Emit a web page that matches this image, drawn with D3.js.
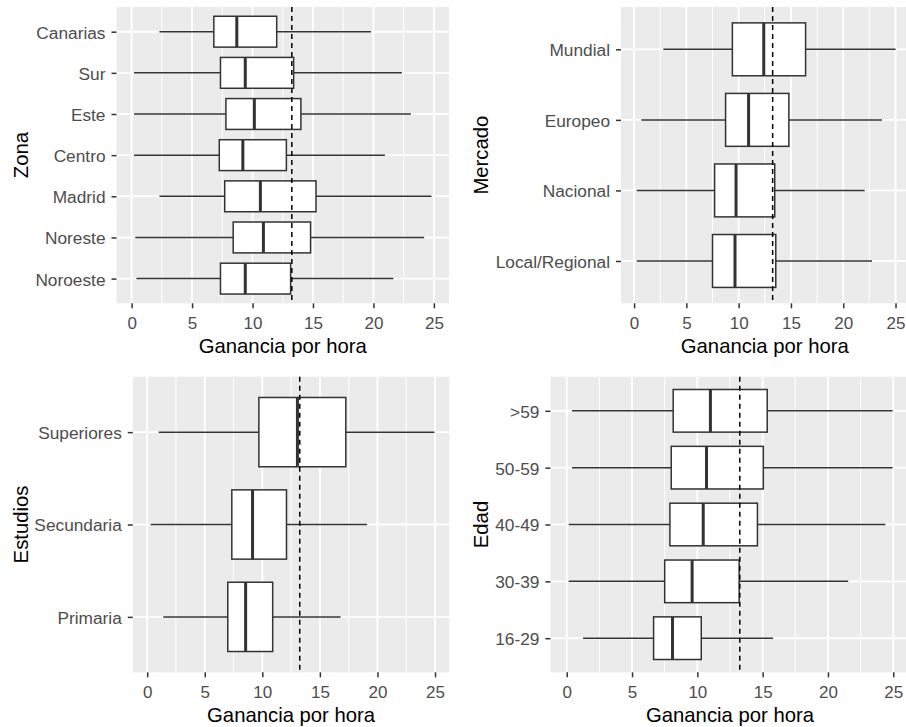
<!DOCTYPE html>
<html>
<head>
<meta charset="utf-8">
<script src="https://cdn.jsdelivr.net/npm/d3@7"></script>
<style>
  html, body { margin: 0; padding: 0; background: #fff; overflow: hidden; }
  svg { display: block; }
</style>
</head>
<body>
<svg id="chart" width="906" height="727"></svg>
<script>
// Hourly earnings ("Ganancia por hora") by group, four boxplot panels.
// Each group: whisker low, Q1, median, Q3, whisker high. Listed top to bottom.
const zonas     = ["Canarias", "Sur", "Este", "Centro", "Madrid", "Noreste", "Noroeste"];
const zonaLow   = [2.3, 0.2, 0.2, 0.2, 2.3, 0.3, 0.4];
const zonaQ1    = [6.8, 7.35, 7.8, 7.25, 7.7, 8.4, 7.35];
const zonaMed   = [8.7, 9.4, 10.15, 9.2, 10.65, 10.9, 9.4];
const zonaQ3    = [12.0, 13.4, 14.0, 12.8, 15.25, 14.8, 13.15];
const zonaHigh  = [19.8, 22.35, 23.1, 20.95, 24.8, 24.2, 21.65];

const mercados    = ["Mundial", "Europeo", "Nacional", "Local/Regional"];
const mercadoLow  = [2.8, 0.7, 0.25, 0.25];
const mercadoQ1   = [9.4, 8.75, 7.7, 7.5];
const mercadoMed  = [12.4, 10.95, 9.75, 9.65];
const mercadoQ3   = [16.4, 14.8, 13.45, 13.55];
const mercadoHigh = [25.0, 23.7, 22.05, 22.75];

const estudios    = ["Superiores", "Secundaria", "Primaria"];
const estudioLow  = [1.0, 0.3, 1.4];
const estudioQ1   = [9.7, 7.35, 7.0];
const estudioMed  = [13.05, 9.15, 8.55];
const estudioQ3   = [17.25, 12.1, 10.9];
const estudioHigh = [24.95, 19.1, 16.8];

const edades    = [">59", "50-59", "40-49", "30-39", "16-29"];
const edadLow   = [0.4, 0.4, 0.15, 0.15, 1.25];
const edadQ1    = [8.15, 8.0, 7.9, 7.5, 6.65];
const edadMed   = [11.0, 10.7, 10.45, 9.6, 8.1];
const edadQ3    = [15.35, 15.05, 14.6, 13.2, 10.3];
const edadHigh  = [24.95, 24.95, 24.4, 21.55, 15.8];

// Overall mean earnings, drawn as a dashed reference line
const mediaGeneral = 13.25;

const xTicks = [0, 5, 10, 15, 20, 25];
const xMinor = [2.5, 7.5, 12.5, 17.5, 22.5];
const xTitle = "Ganancia por hora";

const svg = d3.select("#chart");
const font = "'Liberation Sans', Arial, 'DejaVu Sans', sans-serif";

function rows(cats, lo, q1, med, q3, hi) {
  return cats.map((c, i) => ({ cat: c, lo: lo[i], q1: q1[i], med: med[i], q3: q3[i], hi: hi[i] }));
}

function panel(opt) {
  const { left, right, top, bottom, cats, data, yTitle, yTitleX } = opt;
  const g = svg.append("g");

  const x = d3.scaleLinear().domain([-1.25, 26.25]).range([left, right]);
  const y = d3.scalePoint().domain(cats).range([top, bottom]).padding(0.6);
  const boxH = y.step() * 0.75;

  // panel background
  g.append("rect")
    .attr("x", left).attr("y", top)
    .attr("width", right - left).attr("height", bottom - top)
    .attr("fill", "#EBEBEB");

  // grid
  g.selectAll(".minor").data(xMinor).join("line")
    .attr("x1", d => x(d)).attr("x2", d => x(d))
    .attr("y1", top).attr("y2", bottom)
    .attr("stroke", "#fff").attr("stroke-width", 1.0);
  g.selectAll(".major").data(xTicks).join("line")
    .attr("x1", d => x(d)).attr("x2", d => x(d))
    .attr("y1", top).attr("y2", bottom)
    .attr("stroke", "#fff").attr("stroke-width", 1.9);
  g.selectAll(".hmajor").data(cats).join("line")
    .attr("x1", left).attr("x2", right)
    .attr("y1", d => y(d)).attr("y2", d => y(d))
    .attr("stroke", "#fff").attr("stroke-width", 1.9);

  // boxplots
  const b = g.selectAll(".box").data(data).join("g");
  b.append("line")
    .attr("x1", d => x(d.lo)).attr("x2", d => x(d.q1))
    .attr("y1", d => y(d.cat)).attr("y2", d => y(d.cat))
    .attr("stroke", "#333").attr("stroke-width", 1.5);
  b.append("line")
    .attr("x1", d => x(d.q3)).attr("x2", d => x(d.hi))
    .attr("y1", d => y(d.cat)).attr("y2", d => y(d.cat))
    .attr("stroke", "#333").attr("stroke-width", 1.5);
  b.append("rect")
    .attr("x", d => x(d.q1)).attr("width", d => x(d.q3) - x(d.q1))
    .attr("y", d => y(d.cat) - boxH / 2).attr("height", boxH)
    .attr("fill", "#fff").attr("stroke", "#333").attr("stroke-width", 1.5);
  b.append("line")
    .attr("x1", d => x(d.med)).attr("x2", d => x(d.med))
    .attr("y1", d => y(d.cat) - boxH / 2).attr("y2", d => y(d.cat) + boxH / 2)
    .attr("stroke", "#333").attr("stroke-width", 3);

  // mean reference line
  g.append("line")
    .attr("x1", x(mediaGeneral)).attr("x2", x(mediaGeneral))
    .attr("y1", top).attr("y2", bottom)
    .attr("stroke", "#000").attr("stroke-width", 1.5)
    .attr("stroke-dasharray", "5,4");

  // x axis
  const xa = g.append("g").attr("transform", `translate(0,${bottom})`)
    .call(d3.axisBottom(x).tickValues(xTicks).tickSize(5).tickPadding(3).tickFormat(d3.format("d")));
  xa.select(".domain").remove();
  xa.selectAll(".tick line").attr("stroke", "#333").attr("stroke-width", 1.5);
  xa.selectAll(".tick text").attr("fill", "#4D4D4D")
    .attr("font-family", font).attr("font-size", "17px")
    .attr("dy", null).attr("y", 25.7);

  // y axis
  const ya = g.append("g").attr("transform", `translate(${left},0)`)
    .call(d3.axisLeft(y).tickSize(5).tickPadding(6));
  ya.select(".domain").remove();
  ya.selectAll(".tick line").attr("stroke", "#333").attr("stroke-width", 1.5);
  ya.selectAll(".tick text").attr("fill", "#4D4D4D")
    .attr("font-family", font).attr("font-size", "17.3px")
    .attr("dy", "0.37em");

  // titles
  g.append("text")
    .attr("x", (left + right) / 2).attr("y", bottom + 49.7)
    .attr("text-anchor", "middle")
    .attr("font-family", font).attr("font-size", "20.3px").attr("fill", "#000")
    .text(xTitle);
  g.append("text")
    .attr("transform", `translate(${yTitleX},${(top + bottom) / 2}) rotate(-90)`)
    .attr("text-anchor", "middle").attr("dy", "0.35em")
    .attr("font-family", font).attr("font-size", "20.3px").attr("fill", "#000")
    .text(yTitle);
}

panel({ left: 116.5, right: 449, top: 7, bottom: 303.3,
  cats: zonas, data: rows(zonas, zonaLow, zonaQ1, zonaMed, zonaQ3, zonaHigh),
  yTitle: "Zona", yTitleX: 20.5 });
panel({ left: 621, right: 908.6, top: 7, bottom: 303.3,
  cats: mercados, data: rows(mercados, mercadoLow, mercadoQ1, mercadoMed, mercadoQ3, mercadoHigh),
  yTitle: "Mercado", yTitleX: 481 });
panel({ left: 132.8, right: 449.4, top: 376.7, bottom: 672.3,
  cats: estudios, data: rows(estudios, estudioLow, estudioQ1, estudioMed, estudioQ3, estudioHigh),
  yTitle: "Estudios", yTitleX: 21 });
panel({ left: 550.4, right: 909.6, top: 376.7, bottom: 672.3,
  cats: edades, data: rows(edades, edadLow, edadQ1, edadMed, edadQ3, edadHigh),
  yTitle: "Edad", yTitleX: 481 });
</script>
</body>
</html>
